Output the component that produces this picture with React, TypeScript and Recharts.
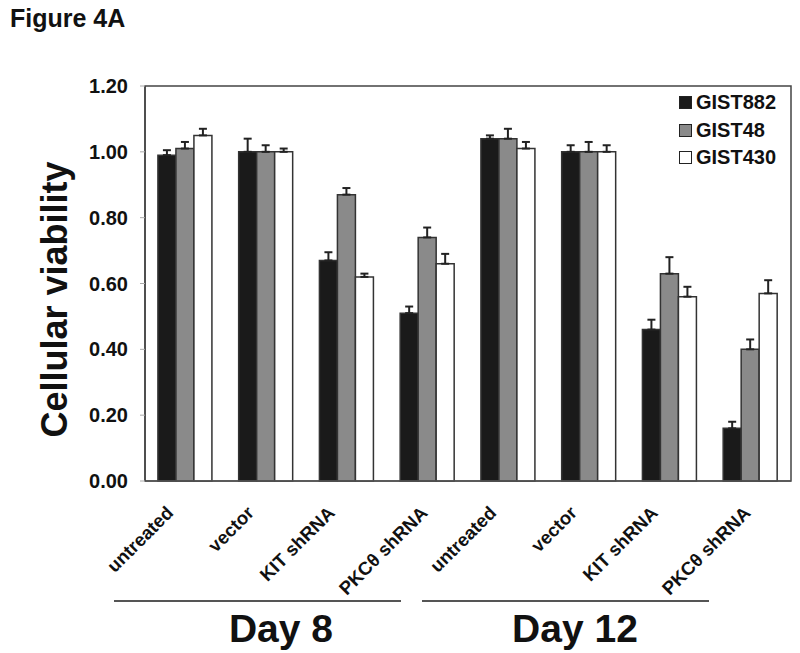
import React from 'react';
import { BarChart, Bar, XAxis, YAxis, ErrorBar, ReferenceArea } from 'recharts';

// treatment per category (Day 8 block, then Day 12 block)
const categories = ['untreated', 'vector', 'KIT shRNA', 'PKCθ shRNA', 'untreated', 'vector', 'KIT shRNA', 'PKCθ shRNA'];

const gist882 = [0.99, 1.0, 0.67, 0.51, 1.04, 1.0, 0.46, 0.16];
const gist882Err = [0.015, 0.04, 0.025, 0.02, 0.01, 0.02, 0.03, 0.02];
const gist48 = [1.01, 1.0, 0.87, 0.74, 1.04, 1.0, 0.63, 0.4];
const gist48Err = [0.02, 0.02, 0.02, 0.03, 0.03, 0.03, 0.05, 0.03];
const gist430 = [1.05, 1.0, 0.62, 0.66, 1.01, 1.0, 0.56, 0.57];
const gist430Err = [0.02, 0.01, 0.01, 0.03, 0.02, 0.02, 0.03, 0.04];

const yTicks = [0, 0.2, 0.4, 0.6, 0.8, 1.0, 1.2];
const dayGroups = ['Day 8', 'Day 12'];

const series = [
  { key: 'g882', err: 'e882', name: 'GIST882', fill: '#1a1a1a' },
  { key: 'g48', err: 'e48', name: 'GIST48', fill: '#8a8a8a' },
  { key: 'g430', err: 'e430', name: 'GIST430', fill: '#ffffff' },
];

// error bars only go up, so lower bound is 0
const data = categories.map((name, i) => ({
  name,
  g882: gist882[i],
  e882: [0, gist882Err[i]],
  g48: gist48[i],
  e48: [0, gist48Err[i]],
  g430: gist430[i],
  e430: [0, gist430Err[i]],
}));

const FONT = '"Liberation Sans", Arial, sans-serif';

const XTick = (props: any) => {
  const { x, y, payload } = props;
  // the long label sits further right in the original
  const ax = payload.value.length >= 10 ? x + 1 : x - 11;
  const ay = y + 31;
  return (
    <text
      x={ax}
      y={ay}
      transform={`rotate(-45, ${ax}, ${ay})`}
      textAnchor="end"
      fontSize={18.5}
      fontWeight="bold"
      fontFamily={FONT}
      fill="#111"
    >
      {payload.value}
    </text>
  );
};

const YLabel = (props: any) => {
  const { viewBox } = props;
  const cx = 54;
  const cy = viewBox.y + viewBox.height / 2 + 16;
  return (
    <text
      x={cx}
      y={cy}
      transform={`rotate(-90, ${cx}, ${cy})`}
      textAnchor="middle"
      dominantBaseline="central"
      fontSize={36}
      fontWeight="bold"
      fontFamily={FONT}
      fill="#111"
    >
      Cellular viability
    </text>
  );
};

const LegendBox = () => (
  <div
    style={{
      position: 'absolute',
      left: 679,
      top: 89,
      fontFamily: FONT,
      fontWeight: 'bold',
      fontSize: 20,
      color: '#111',
    }}
  >
    {series.map((s) => (
      <div key={s.key} style={{ display: 'flex', alignItems: 'center', height: 27.5 }}>
        <span
          style={{
            display: 'inline-block',
            width: 11,
            height: 11,
            background: s.fill,
            border: '1.5px solid #222',
            marginRight: 4,
          }}
        />
        {s.name}
      </div>
    ))}
  </div>
);

export default function App() {
  return (
    <div style={{ position: 'absolute', left: 0, top: 0, width: 800, height: 653, background: '#fff', fontFamily: FONT }}>
      <div style={{ position: 'absolute', left: 10, top: 4, fontSize: 25, fontWeight: 'bold', color: '#111' }}>
        Figure 4A
      </div>

      <BarChart
        width={800}
        height={653}
        data={data}
        margin={{ top: 86, right: 9, bottom: 0, left: 0 }}
        barGap={0}
        barCategoryGap="16%"
      >
        <XAxis
          dataKey="name"
          height={172}
          interval={0}
          tick={<XTick />}
          tickLine={false}
          tickSize={0}
          axisLine={{ stroke: '#555', strokeWidth: 1.5 }}
        />
        <YAxis
          width={145}
          domain={[0, 1.2]}
          ticks={yTicks}
          interval={0}
          tickFormatter={(v: number) => v.toFixed(2)}
          tick={{ fontSize: 20, fontWeight: 'bold', fill: '#111', fontFamily: FONT }}
          tickLine={{ stroke: '#aaa' }}
          tickSize={5}
          tickMargin={12}
          axisLine={{ stroke: '#444', strokeWidth: 1.5 }}
          label={<YLabel />}
        />
        {/* plot frame */}
        <ReferenceArea y1={0} y2={1.2} fill="none" stroke="#444" strokeWidth={1.5} />
        {series.map((s) => (
          <Bar key={s.key} dataKey={s.key} name={s.name} fill={s.fill} stroke="#333" strokeWidth={1.5} isAnimationActive={false}>
            <ErrorBar dataKey={s.err} width={4} stroke="#222" strokeWidth={2} direction="y" isAnimationActive={false} />
          </Bar>
        ))}
      </BarChart>

      <LegendBox />

      <svg width={800} height={653} style={{ position: 'absolute', left: 0, top: 0, pointerEvents: 'none' }}>
        <line x1={114} y1={601} x2={401} y2={601} stroke="#555" strokeWidth={2} />
        <line x1={422} y1={601} x2={709} y2={601} stroke="#555" strokeWidth={2} />
        <text x={281} y={642} textAnchor="middle" fontSize={39} fontWeight="bold" fontFamily={FONT} fill="#111">
          {dayGroups[0]}
        </text>
        <text x={575} y={642} textAnchor="middle" fontSize={39} fontWeight="bold" fontFamily={FONT} fill="#111">
          {dayGroups[1]}
        </text>
      </svg>
    </div>
  );
}
